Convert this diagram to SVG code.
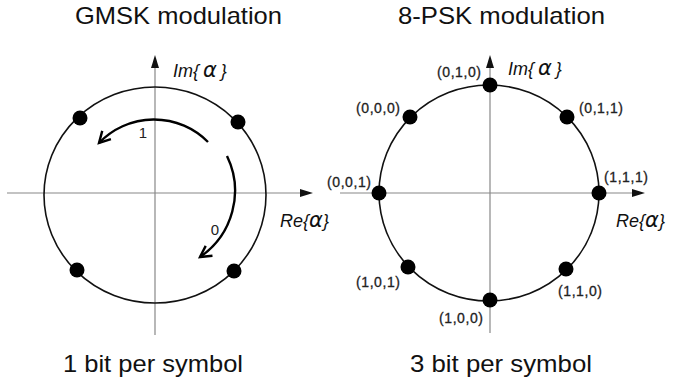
<svg xmlns="http://www.w3.org/2000/svg" width="673" height="382" viewBox="0 0 673 382">
<defs>
<style>
.title{font-family:"Liberation Sans",Arial,sans-serif;font-size:24px;fill:#111;}
.ax{stroke:#888;stroke-width:1.2;fill:none;}
.head{fill:#111;stroke:none;}
.circ{stroke:#111;stroke-width:1.6;fill:none;}
.dot{fill:#000;}
.axl{font-family:"Liberation Sans",Arial,sans-serif;font-style:italic;font-size:18px;fill:#111;}
.gk{font-family:"DejaVu Sans","Liberation Sans",sans-serif;font-style:italic;font-size:21px;}
.pt{font-family:"Liberation Sans",Arial,sans-serif;font-size:14px;fill:#222;stroke:#222;stroke-width:0.3;}
.bit{font-family:"Liberation Sans",Arial,sans-serif;font-size:15px;fill:#222;}
.rot{stroke:#000;stroke-width:2.4;fill:none;}
</style>
<marker id="chev" markerUnits="userSpaceOnUse" markerWidth="20" markerHeight="20" viewBox="-12 -10 20 20" refX="0" refY="0" orient="auto">
<path d="M -11 -6 L 0 0 L -11 6" fill="none" stroke="#000" stroke-width="2.4" stroke-linejoin="miter"/>
</marker>
</defs>
<rect width="673" height="382" fill="#fff"/>

<g id="gmsk">
<text class="title" x="75" y="24" textLength="207" lengthAdjust="spacingAndGlyphs">GMSK modulation</text>
<g id="gmsk-axes">
<line class="ax" x1="155" y1="64" x2="155" y2="335"/>
<polygon class="head" points="155,55 151,68 159,68"/>
<line class="ax" x1="7" y1="193" x2="302" y2="193"/>
<polygon class="head" points="313,193 300,189 300,197"/>
<text class="axl" x="173" y="77">Im{<tspan class="gk" dx="4">α</tspan><tspan dx="4">}</tspan></text>
<text class="axl" x="280" y="227">Re{<tspan class="gk">α</tspan>}</text>
</g>
<ellipse id="gmsk-circle" class="circ" cx="155" cy="195" rx="111" ry="108"/>
<g id="gmsk-points">
<circle class="dot" cx="80" cy="118" r="7.5"/>
<circle class="dot" cx="238" cy="122" r="7.5"/>
<circle class="dot" cx="77" cy="270" r="7.5"/>
<circle class="dot" cx="234" cy="271" r="7.5"/>
</g>
<g id="gmsk-transitions">
<path class="rot" d="M 208 142 A 76 76 0 0 0 99 143" marker-end="url(#chev)"/>
<path class="rot" d="M 227 156 A 80 80 0 0 1 200 257" marker-end="url(#chev)"/>
<text class="bit" x="143" y="138" text-anchor="middle">1</text>
<text class="bit" x="215" y="235" text-anchor="middle">0</text>
</g>
<text class="title" x="63" y="372" textLength="180" lengthAdjust="spacingAndGlyphs">1 bit per symbol</text>
</g>

<g id="psk8">
<text class="title" x="398" y="24" textLength="207" lengthAdjust="spacingAndGlyphs">8-PSK modulation</text>
<g id="psk-axes">
<line class="ax" x1="490" y1="64" x2="490" y2="333"/>
<polygon class="head" points="490,55 486,68 494,68"/>
<line class="ax" x1="340" y1="193" x2="634" y2="193"/>
<polygon class="head" points="645,193 632,189 632,197"/>
<text class="axl" x="508" y="75">Im{<tspan class="gk" dx="4">α</tspan><tspan dx="4">}</tspan></text>
<text class="axl" x="616" y="227">Re{<tspan class="gk">α</tspan>}</text>
</g>
<ellipse id="psk-circle" class="circ" cx="489" cy="193" rx="110" ry="108"/>
<g id="psk-points">
<circle class="dot" cx="490" cy="85" r="7.5"/>
<circle class="dot" cx="410" cy="117" r="7.5"/>
<circle class="dot" cx="567" cy="117" r="7.5"/>
<circle class="dot" cx="379" cy="193" r="7.5"/>
<circle class="dot" cx="599" cy="193" r="7.5"/>
<circle class="dot" cx="408" cy="267" r="7.5"/>
<circle class="dot" cx="566" cy="269" r="7.5"/>
<circle class="dot" cx="490" cy="300" r="7.5"/>
</g>
<g id="psk-labels">
<text class="pt" x="437" y="77" textLength="44">(0,1,0)</text>
<text class="pt" x="356" y="113" textLength="44">(0,0,0)</text>
<text class="pt" x="579" y="113" textLength="44">(0,1,1)</text>
<text class="pt" x="327" y="187" textLength="44">(0,0,1)</text>
<text class="pt" x="604" y="182" textLength="44">(1,1,1)</text>
<text class="pt" x="356" y="287" textLength="44">(1,0,1)</text>
<text class="pt" x="558" y="296" textLength="44">(1,1,0)</text>
<text class="pt" x="439" y="323" textLength="44">(1,0,0)</text>
</g>
<text class="title" x="410" y="372" textLength="182" lengthAdjust="spacingAndGlyphs">3 bit per symbol</text>
</g>
</svg>
